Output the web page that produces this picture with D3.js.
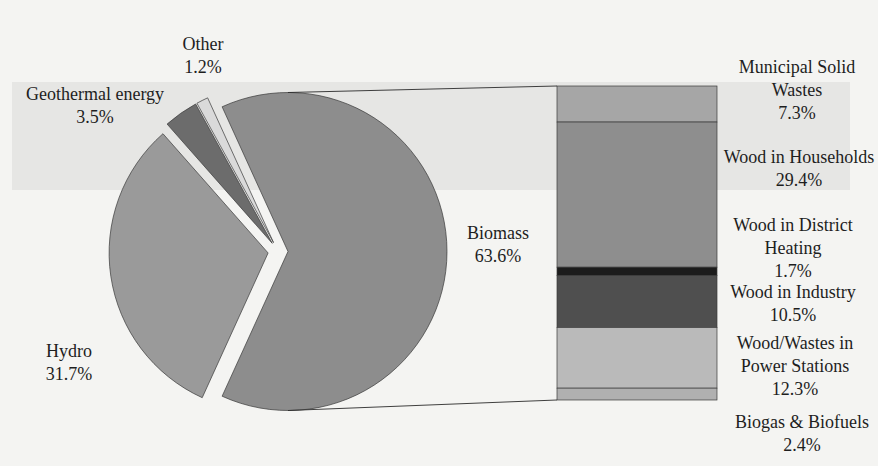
<!DOCTYPE html>
<html>
<head>
<meta charset="utf-8">
<script src="https://cdn.jsdelivr.net/npm/d3@7/dist/d3.min.js"></script>
<style>
  html, body { margin: 0; padding: 0; background: #f4f4f2; }
  svg { display: block; }
  text { font-family: "Liberation Serif", "Times New Roman", serif; font-size: 18px; fill: #1e1e1e; }
</style>
</head>
<body>
<svg id="chart" width="878" height="466"></svg>
<script>
// ---- data ----
const pieCategories = ["Biomass", "Hydro", "Geothermal energy", "Other"];
const pieValues = [63.6, 31.7, 3.5, 1.2];
const barCategories = ["Municipal Solid Wastes", "Wood in Households", "Wood in District Heating",
                       "Wood in Industry", "Wood/Wastes in Power Stations", "Biogas & Biofuels"];
const barValues = [7.3, 29.4, 1.7, 10.5, 12.3, 2.4];

// ---- layout / style ----
const pieLabelLines = [["Biomass"], ["Hydro"], ["Geothermal energy"], ["Other"]];
const barLabelLines = [["Municipal Solid", "Wastes"], ["Wood in Households"], ["Wood in District", "Heating"],
                       ["Wood in Industry"], ["Wood/Wastes in", "Power Stations"], ["Biogas & Biofuels"]];
const pieLabelPos = [[498, 239], [69, 357], [95, 100], [203, 50]];
const barLabelPos = [[797, 73], [799, 163], [793, 231], [793, 298], [795, 349], [802, 428]];
const pieColors = ["#8d8d8d", "#9a9a9a", "#6c6c6c", "#dadada"];
const barColors = ["#a6a6a6", "#8e8e8e", "#1c1c1c", "#4f4f4f", "#bababa", "#b0b0b0"];
const lineH = 23;
const fmt = v => d3.format(".1f")(v) + "%";

const svg = d3.select("#chart");

// faint scanned-page band
svg.append("rect").attr("x", 12).attr("y", 82).attr("width", 838).attr("height", 108)
  .attr("fill", "#e6e6e4");

// ---- pie ----
const cx = 278, cy = 251.5, R = 159, explode = 10;
const mainSpan = pieValues[0] / d3.sum(pieValues) * 2 * Math.PI;
const start = Math.PI / 2 - mainSpan / 2;
const pie = d3.pie().sort(null).value(d => d)
  .startAngle(start).endAngle(start + 2 * Math.PI);
const arcs = pie(pieValues);
const arc = d3.arc().innerRadius(0).outerRadius(R);

const offs = arcs.map(a => {
  const m = (a.startAngle + a.endAngle) / 2;
  return [cx + explode * Math.sin(m), cy - explode * Math.cos(m)];
});

svg.append("g").selectAll("path").data(arcs).join("path")
  .attr("transform", (d, i) => `translate(${offs[i][0]},${offs[i][1]})`)
  .attr("d", arc)
  .attr("fill", (d, i) => pieColors[i])
  .attr("stroke", "#3a3a3a").attr("stroke-width", 0.7);

// ---- bar ----
const barX = 557, barW = 160;
const y = d3.scaleLinear().domain([0, d3.sum(barValues)]).range([86, 400]);
const cum = d3.cumsum(barValues);
const segs = barValues.map((v, i) => ({ v, y0: cum[i] - v, y1: cum[i] }));

svg.append("g").selectAll("rect").data(segs).join("rect")
  .attr("x", barX).attr("width", barW)
  .attr("y", d => y(d.y0)).attr("height", d => y(d.y1) - y(d.y0))
  .attr("fill", (d, i) => barColors[i])
  .attr("stroke", "#3a3a3a").attr("stroke-width", 0.7);

// ---- connector lines ----
const bOff = offs[0];
svg.append("g").attr("stroke", "#2a2a2a").attr("stroke-width", 0.9).selectAll("line")
  .data([[bOff[0], bOff[1] - R, barX, y(0)], [bOff[0], bOff[1] + R, barX, y(d3.sum(barValues))]])
  .join("line")
  .attr("x1", d => d[0]).attr("y1", d => d[1]).attr("x2", d => d[2]).attr("y2", d => d[3]);

// ---- labels ----
function drawLabel(lines, pos) {
  const t = svg.append("text").attr("text-anchor", "middle");
  lines.forEach((s, k) => {
    t.append("tspan").attr("x", pos[0]).attr("y", pos[1] + k * lineH).text(s);
  });
}
pieValues.forEach((v, i) => drawLabel(pieLabelLines[i].concat([fmt(v)]), pieLabelPos[i]));
barValues.forEach((v, i) => drawLabel(barLabelLines[i].concat([fmt(v)]), barLabelPos[i]));
</script>
</body>
</html>
